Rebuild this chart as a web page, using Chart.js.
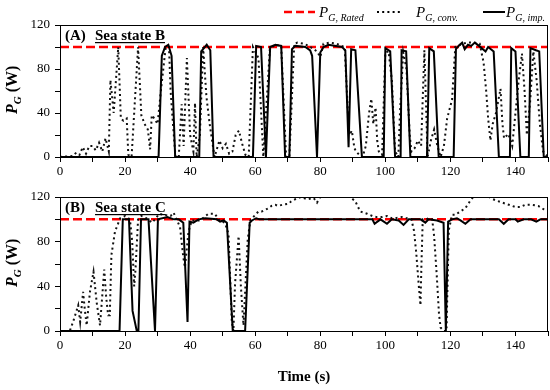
<!DOCTYPE html>
<html>
<head>
<meta charset="utf-8">
<script src="https://cdn.jsdelivr.net/npm/chart.js@4.4.1/dist/chart.umd.min.js"></script>
<style>
  html, body { margin: 0; padding: 0; background: #fff; }
  #wrap { position: relative; width: 550px; height: 390px; }
  canvas { position: absolute; left: 0; }
</style>
</head>
<body>
<div id="wrap">
  <canvas id="chartA" width="550" height="182" style="top:0"></canvas>
  <canvas id="chartB" width="550" height="210" style="top:180px"></canvas>
</div>
<script>
/* valores: tempo (s) e potência (W) */
const ratedPower = 100;
const timeRange = [0, 150];

// (A) Sea state B
const tConvA = [
  0, 4, 5, 6, 7, 8, 9, 10, 11, 12,
  13, 14, 15, 15.5, 16.5, 17.9, 18.7, 19.5, 20.5, 21,
  22, 24, 25, 26, 27, 27.7, 28.2, 29, 30, 31,
  32.5, 33.5, 34, 34.6, 35.5, 36.5, 37.4, 38, 39, 40,
  41, 41.5, 42, 43, 44, 45, 46, 47.5, 49, 50,
  51, 52, 53, 54, 55, 56, 57, 58, 59.3, 61,
  62.5, 64.5, 66, 68, 69.5, 70.5, 72, 73, 75, 77,
  78, 79, 80, 81, 83, 85, 86.5, 87.5, 88.5, 89,
  89.7, 90.5, 91, 92, 93, 94, 95, 95.7, 96.3, 97,
  97.5, 98, 99, 100, 101, 102, 103, 104, 104.5, 105.5,
  106.5, 107.5, 108, 109, 110, 111, 112, 113, 114, 115,
  116, 117, 118, 119, 120.5, 121.5, 123, 125, 127, 129,
  130.2, 131, 131.6, 132.3, 133, 134, 135.4, 136, 136.5, 137.8,
  139, 140, 141, 142, 142.8, 143.5, 144.5, 145.5, 146.5, 147.5,
  148.5, 150
];
const pConvA = [
  0, 1, 4, 2, 9, 3, 10, 10, 6, 13,
  5, 17, 5, 70, 40, 100, 35, 33, 35, 2,
  0, 100, 38, 30, 25, 7, 38, 35, 30, 60,
  100, 100, 60, 35, 0, 0, 48, 10, 90, 20,
  5, 49, 0, 20, 100, 55, 30, 0, 15, 8,
  12, 3, 5, 20, 24, 12, 2, 0, 100, 90,
  0, 98, 102, 101, 0, 0, 103, 104, 103, 100,
  98, 96, 91, 103, 104, 103, 101, 100, 40, 20,
  24, 8, 5, 2, 0, 10, 40, 53, 30, 45,
  15, 5, 2, 95, 96, 70, 5, 0, 40, 95,
  80, 20, 5, 8, 15, 10, 97, 0, 15, 25,
  10, 0, 10, 35, 52, 100, 102, 104, 104, 103,
  86, 60, 35, 15, 30, 40, 62, 30, 17, 21,
  10, 40, 70, 94, 60, 20, 50, 96, 70, 30,
  5, 0
];
const tImpA = [
  0, 30.3, 31.3, 32.3, 33.3, 34.3, 35.4, 42.8, 43.4, 45.1,
  46.2, 47.2, 59.3, 60.3, 61.8, 63.3, 64.6, 66.2, 68, 69.2,
  70.5, 71.3, 72.3, 75.4, 76.9, 77.5, 79, 80, 81, 82.5,
  86.7, 87.7, 88.7, 89.5, 90.8, 92.8, 99.5, 100, 101.5, 103,
  104.7, 105, 106.4, 107.7, 112.8, 113.5, 114.9, 116.4, 121, 121.7,
  122.5, 123.6, 124.4, 125.4, 126.4, 127.5, 128.8, 130.8, 131.6, 133.3,
  134.9, 138.3, 138.7, 140, 141.5, 144.1, 144.6, 146.3, 147.3, 148.7,
  150
];
const pImpA = [
  0, 0, 92, 100, 102, 92, 0, 0, 96, 102,
  97, 0, 0, 101, 100, 0, 100, 102, 101, 0,
  0, 98, 101, 100, 97, 92, 0, 95, 100, 102,
  100, 97, 9, 98, 97, 0, 0, 99, 96, 0,
  0, 97, 96, 0, 0, 99, 96, 0, 0, 98,
  101, 104, 98, 102, 101, 104, 101, 96, 100, 96,
  0, 0, 99, 96, 0, 0, 99, 97, 96, 0,
  0
];

// (B) Sea state C
const tConvB = [
  0, 3, 4, 5.6, 6.2, 7.1, 7.6, 8.2, 9.2, 10.3,
  11.3, 12.3, 13.6, 14.2, 14.8, 15.3, 15.8, 16.9, 18.5, 20,
  21.5, 22.2, 22.8, 23.2, 24, 25, 26, 27, 28.3, 29.2,
  30.5, 32, 34, 34.9, 36.9, 37.9, 38.4, 39.5, 40.5, 43,
  45.6, 47.6, 48.7, 49.7, 50.8, 51.8, 52.8, 53.3, 53.8, 54.9,
  55.6, 56.4, 57.7, 58.5, 60, 61, 62, 64.1, 65, 66.2,
  67, 68.3, 70.3, 71, 72.3, 74, 76, 78, 79, 80,
  82, 85, 88, 89.2, 90.8, 92.3, 94.4, 96, 97.4, 99,
  100.5, 102, 103, 105, 106.5, 108, 108.8, 109.5, 110.3, 110.8,
  111.1, 111.5, 112.5, 113.5, 114.4, 115, 115.8, 116.5, 117, 118,
  118.8, 119.5, 120.5, 121.5, 122.5, 124.6, 126.2, 127, 129, 131,
  132.3, 134, 135.9, 138, 140, 141.5, 143, 145, 147, 148.7,
  150
];
const pConvB = [
  0, 0, 8, 23, 8, 35, 20, 5, 35, 53,
  25, 5, 55, 30, 14, 14, 68, 89, 101, 103,
  100, 80, 40, 55, 100, 103, 102, 100, 97, 100,
  105, 104, 103, 106, 93, 66, 57, 89, 99, 99,
  105, 105, 100, 99, 96, 87, 9, 0, 42, 85,
  40, 5, 82, 99, 104, 107, 107, 110, 112, 113,
  112, 113, 114, 116, 118, 120, 118, 119, 115, 120,
  123, 125, 122, 120, 116, 107, 105, 103, 102, 102,
  103, 101, 101, 102, 101, 100, 90, 70, 40, 23,
  60, 100, 100, 101, 100, 85, 50, 15, 3, 0,
  0, 90, 104, 104, 106, 110, 117, 120, 124, 123,
  119, 117, 115, 113, 111, 111, 113, 113, 112, 109,
  108
];
const tImpB = [
  0, 18.3, 19.3, 21.2, 22.3, 23.6, 24.1, 24.9, 27.2, 29.2,
  30.1, 33, 35, 36.5, 37.9, 39.2, 39.8, 41, 42.6, 44.6,
  48.2, 49.2, 50.3, 51.3, 53.1, 56.9, 58.3, 59, 60.3, 61.3,
  96, 96.7, 98.5, 100.5, 102, 104.1, 105.6, 107.2, 110.8, 112.3,
  113.3, 115.9, 117.9, 118.6, 119.3, 120.5, 122, 123.1, 124.6, 126.2,
  134.9, 136.4, 137.9, 140, 140.7, 142.5, 144.8, 146.4, 147.7, 150
];
const pImpB = [
  0, 0, 100, 100, 18, 0, 0, 100, 100, 0,
  100, 102, 100, 100, 97, 8, 98, 97, 100, 101,
  100, 98, 99, 97, 0, 0, 97, 99, 101, 100,
  100, 96, 100, 96, 100, 99, 95, 100, 100, 97,
  100, 99, 97, 0, 98, 100, 101, 99, 96, 100,
  100, 96, 100, 100, 98, 100, 100, 98, 100, 100
];

const SERIF = "'Liberation Serif', 'Times New Roman', serif";
Chart.defaults.font.family = SERIF;
Chart.defaults.color = '#000';

const pts = (ts, ps) => ts.map((t, i) => ({ x: t, y: ps[i] }));

/* P com subscrito G (itálico) — usado no eixo y e na legenda */
function drawPG(ctx, x, y, sub, size, weight) {
  ctx.font = `italic ${weight} ${size}px ${SERIF}`;
  ctx.fillText('P', x, y);
  let w = ctx.measureText('P').width;
  ctx.font = `italic ${weight} ${Math.round(size * 0.68)}px ${SERIF}`;
  ctx.fillText(sub, x + w, y + size * 0.25);
  return w + ctx.measureText(sub).width;
}

const framePlugin = {
  id: 'frame',
  afterDatasetsDraw(chart) {
    const { ctx, chartArea: a } = chart;
    ctx.save();
    ctx.strokeStyle = '#000';
    ctx.lineWidth = 1;
    ctx.strokeRect(Math.round(a.left) + 0.5, Math.round(a.top) + 0.5,
      Math.round(a.right - a.left) - 1, Math.round(a.bottom - a.top));
    ctx.restore();
  }
};

const panelPlugin = {
  id: 'panel',
  afterDraw(chart, args, opts) {
    const { ctx, chartArea: a } = chart;
    ctx.save();
    ctx.fillStyle = '#000';
    ctx.textBaseline = 'alphabetic';
    ctx.font = `bold 15px ${SERIF}`;
    ctx.fillText(opts.tag, a.left + 5, a.top + 15);
    const x0 = a.left + 35;
    ctx.fillText(opts.text, x0, a.top + 15);
    const w = ctx.measureText(opts.text).width;
    ctx.fillRect(x0, a.top + 17, w, 1.2);
    // título do eixo y: P_G (W)
    ctx.translate(17, (a.top + a.bottom) / 2);
    ctx.rotate(-Math.PI / 2);
    ctx.textAlign = 'left';
    const full = 46;
    let x = -full / 2;
    x += drawPG(ctx, x, 0, 'G', 16, 'bold');
    ctx.font = `bold 16px ${SERIF}`;
    ctx.fillText(' (W)', x, 0);
    ctx.restore();
  }
};

const legendPlugin = {
  id: 'topLegend',
  afterDraw(chart, args, opts) {
    if (!opts.show) return;
    const ctx = chart.ctx;
    const y = 12;
    ctx.save();
    ctx.fillStyle = '#000';
    ctx.lineCap = 'butt';
    // rated
    ctx.strokeStyle = '#ff0000'; ctx.lineWidth = 2.5; ctx.setLineDash([8, 4]);
    ctx.beginPath(); ctx.moveTo(284, y); ctx.lineTo(315, y); ctx.stroke();
    drawPG(ctx, 319, y + 5, 'G, Rated', 15, 'normal');
    // conv
    ctx.strokeStyle = '#000'; ctx.lineWidth = 2; ctx.setLineDash([2, 3.2]);
    ctx.beginPath(); ctx.moveTo(377, y); ctx.lineTo(403, y); ctx.stroke();
    drawPG(ctx, 416, y + 5, 'G, conv.', 15, 'normal');
    // imp
    ctx.setLineDash([]);
    ctx.beginPath(); ctx.moveTo(483, y); ctx.lineTo(505, y); ctx.stroke();
    drawPG(ctx, 506, y + 5, 'G, imp.', 15, 'normal');
    ctx.restore();
  }
};

function makeChart(id, imp, conv, tag, text, padTop, xHeight, showTime, showLegend) {
  return new Chart(document.getElementById(id), {
    type: 'line',
    data: {
      datasets: [
        { label: 'imp', data: imp, borderColor: '#000', borderWidth: 2, pointRadius: 0, tension: 0 },
        { label: 'conv', data: conv, borderColor: '#111', borderWidth: 2, borderDash: [2, 3.2], pointRadius: 0, tension: 0 },
        { label: 'rated', data: timeRange.map(t => ({ x: t, y: ratedPower })), borderColor: '#ff0000',
          borderWidth: 2.5, borderDash: [9, 4], pointRadius: 0 }
      ]
    },
    options: {
      responsive: false,
      animation: false,
      events: [],
      layout: { padding: { top: padTop, right: 2, left: 0, bottom: 0 } },
      plugins: {
        legend: { display: false },
        tooltip: { enabled: false },
        panel: { tag, text },
        topLegend: { show: showLegend }
      },
      scales: {
        x: {
          type: 'linear', min: 0, max: 150,
          afterFit: s => { s.height = xHeight; },
          ticks: { stepSize: 10, autoSkip: false, maxRotation: 0, padding: 2,
                   font: { size: 13 }, callback: v => v % 20 === 0 ? v : '' },
          grid: { drawOnChartArea: false, tickLength: 5, color: '#000' },
          border: { color: '#000' },
          title: { display: showTime, text: 'Time (s)', font: { size: 15, weight: 'bold' },
                   padding: { top: 2, bottom: 4 } }
        },
        y: {
          min: 0, max: 120,
          afterFit: s => { s.width = 60; },
          ticks: { stepSize: 20, autoSkip: false, padding: 5, font: { size: 13 },
                   callback: v => v % 40 === 0 ? v : '' },
          grid: { drawOnChartArea: false, tickLength: 5, color: '#000' },
          border: { color: '#000' }
        }
      }
    },
    plugins: [framePlugin, panelPlugin, legendPlugin]
  });
}

makeChart('chartA', pts(tImpA, pImpA), pts(tConvA, pConvA), '(A)', 'Sea state B', 25, 25, false, true);
makeChart('chartB', pts(tImpB, pImpB), pts(tConvB, pConvB), '(B)', 'Sea state C', 17, 59, true, false);
</script>
</body>
</html>
